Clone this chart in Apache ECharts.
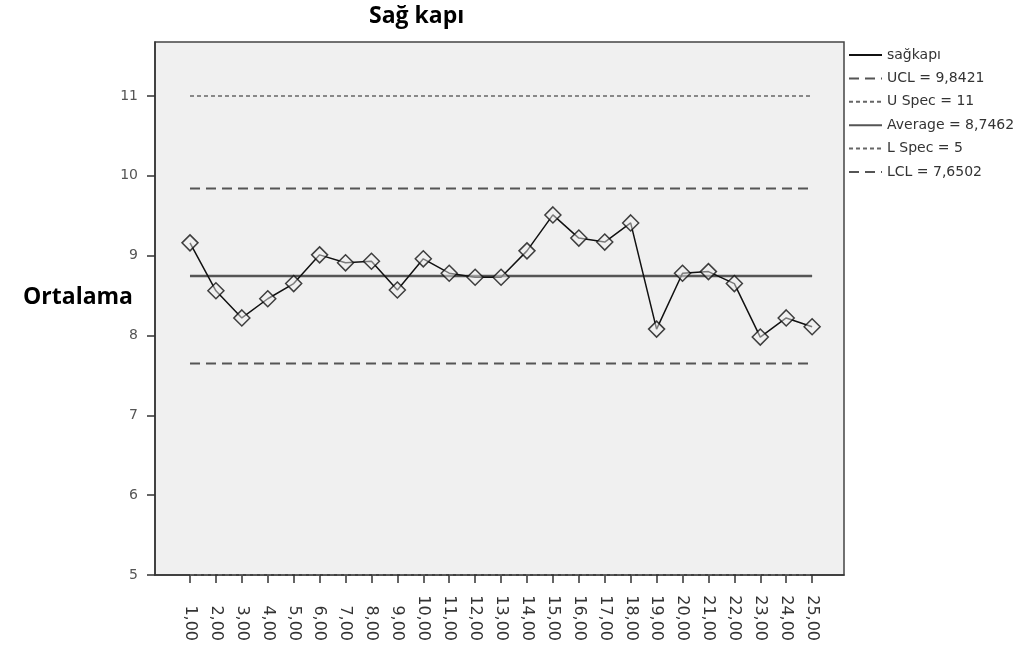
<!DOCTYPE html>
<html>
<head>
<meta charset="utf-8">
<script src="https://cdn.jsdelivr.net/npm/echarts@6/dist/echarts.min.js"></script>
<style>
  html, body { margin: 0; padding: 0; background: #fff; }
  #chart { width: 1035px; height: 654px; }
</style>
</head>
<body>
<div id="chart"></div>
<script>
// Sağ kapı kontrol grafiği: ortalama değerleri + kontrol / spesifikasyon sınırları
const samples = [1, 2, 3, 4, 5, 6, 7, 8, 9, 10, 11, 12, 13, 14, 15, 16, 17, 18, 19, 20, 21, 22, 23, 24, 25]
const means = [9.16, 8.56, 8.22, 8.46, 8.65, 9.01, 8.91, 8.93, 8.57, 8.96, 8.78, 8.73, 8.73, 9.06,
  9.51, 9.22, 9.17, 9.41, 8.08, 8.78, 8.80, 8.65, 7.98, 8.22, 8.11]
const yTicks = [5, 6, 7, 8, 9, 10, 11]
const ucl = 9.8421
const uSpec = 11
const average = 8.7462
const lSpec = 5
const lcl = 7.6502

const font = 'DejaVu Sans, sans-serif'
const first = samples[0]
const last = samples[samples.length - 1]
const flat = (v) => [[first, v], [last, v]]
// lejantta sadece çizgi görünsün
const noSym = { color: 'transparent', borderColor: 'transparent' }

const chart = echarts.init(document.getElementById('chart'))

chart.setOption({
  animation: false,
  title: [
    { text: 'Sağ kapı', left: 364, top: 0,
      textStyle: { fontFamily: 'Open Sans', fontWeight: 'bold', fontSize: 23, color: '#000' } },
    { text: 'Ortalama', left: 18, top: 281,
      textStyle: { fontFamily: 'Open Sans', fontWeight: 'bold', fontSize: 23, color: '#000' } }
  ],
  legend: {
    orient: 'vertical', left: 843, top: 43,
    itemWidth: 33, itemHeight: 14, itemGap: 9.4,
    textStyle: { fontFamily: font, fontSize: 14, color: '#333' },
    data: ['sağkapı', 'UCL = 9,8421', 'U Spec = 11', 'Average = 8,7462', 'L Spec = 5', 'LCL = 7,6502']
  },
  grid: {
    left: 155, top: 42, right: 191, bottom: 79,
    show: true, backgroundColor: '#f0f0f0', borderColor: '#444', borderWidth: 1.5
  },
  xAxis: {
    type: 'value', min: -0.35, max: 26.23,
    splitLine: { show: false },
    axisLine: { onZero: false, lineStyle: { color: '#333', width: 1.5 } },
    axisTick: { customValues: samples, length: 8, lineStyle: { color: '#333', width: 1.5 } },
    axisLabel: {
      customValues: samples, rotate: -90, align: 'right', verticalAlign: 'middle', margin: 66,
      formatter: (v) => v + ',00', fontFamily: font, fontSize: 16, color: '#333'
    }
  },
  yAxis: {
    type: 'value', min: 5, max: 11.676,
    splitLine: { show: false },
    axisLine: { show: true, onZero: false, lineStyle: { color: '#333', width: 1.5 } },
    axisTick: { show: true, customValues: yTicks, length: 8, lineStyle: { color: '#333', width: 1.5 } },
    axisLabel: { customValues: yTicks, margin: 17, fontFamily: font, fontSize: 14, color: '#555' }
  },
  series: [
    { name: 'U Spec = 11', type: 'line', symbol: 'none', data: flat(uSpec), itemStyle: noSym,
      lineStyle: { color: '#666', width: 1.5, type: [4, 3] } },
    { name: 'UCL = 9,8421', type: 'line', symbol: 'none', data: flat(ucl), itemStyle: noSym,
      lineStyle: { color: '#555', width: 2, type: [10, 6] } },
    { name: 'Average = 8,7462', type: 'line', symbol: 'none', data: flat(average), itemStyle: noSym,
      lineStyle: { color: '#555', width: 2.5 } },
    { name: 'LCL = 7,6502', type: 'line', symbol: 'none', data: flat(lcl), itemStyle: noSym,
      lineStyle: { color: '#555', width: 2, type: [10, 6] } },
    { name: 'L Spec = 5', type: 'line', symbol: 'none', data: flat(lSpec), itemStyle: noSym,
      lineStyle: { color: '#666', width: 1.5, type: [4, 3] } },
    { name: 'sağkapı', type: 'line', symbol: 'none', z: 5, itemStyle: noSym,
      data: samples.map((s, i) => [s, means[i]]),
      lineStyle: { color: '#111', width: 1.5 } },
    // elmas işaretler (lejantta yok)
    { name: 'points', type: 'scatter', symbol: 'diamond', symbolSize: 16, z: 6,
      data: samples.map((s, i) => [s, means[i]]),
      itemStyle: { color: 'rgba(240,240,240,0.6)', borderColor: '#111', borderWidth: 1.5 } }
  ]
})
</script>
</body>
</html>
